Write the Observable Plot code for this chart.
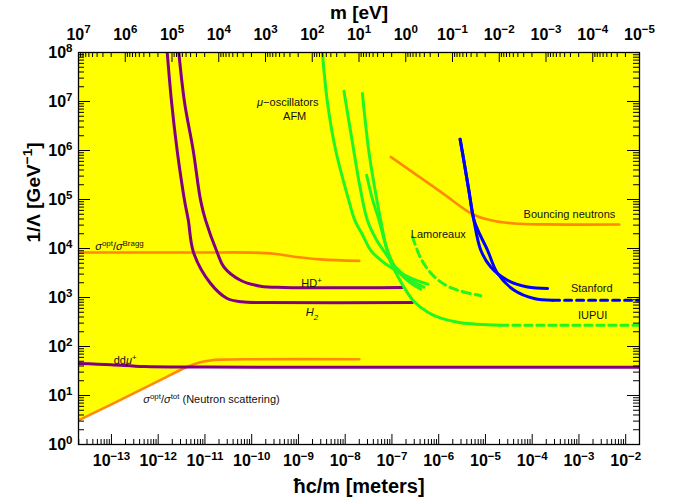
<!DOCTYPE html>
<html><head><meta charset="utf-8">
<script src="https://cdn.jsdelivr.net/npm/d3@7"></script>
<script src="https://cdn.jsdelivr.net/npm/@observablehq/plot@0.6"></script>
<style>
body{margin:0;background:#fff;}
svg{font-family:"Liberation Sans",Arial,Helvetica,sans-serif;}
</style></head><body><div id="chart"></div>
<script>
const HC = 1.97327e-7; // hbar*c in eV*m

// ---- series: [hbar c / m (meters), 1/Lambda (GeV^-1)] ----
const ddmu = [[1.97e-14,45],[1e-13,42.5],[5e-13,39],[1e-11,38],[1.97e-2,37.5]];
const sigmaTot = [[1.97e-14,3.1],[1e-13,6.6],[1e-12,19.6],[4e-12,37.6],[8e-12,47.5],[1.3e-11,52],[2.2e-11,54],[1e-10,55],[2e-8,55]];
const sigmaBragg = [[1.97e-14,8300],[1e-11,8300],[1e-10,8250],[3e-10,7800],[8e-10,6800],[3e-9,6000],[2e-8,5600]];
const h2 = [[1.56e-12,1e8],[1.93e-12,9.8e6],[2.54e-12,1.01e6],[3.65e-12,9.7e4],[4.4e-12,3.8e4],[5.7e-12,8300],[1.32e-11,1930],[3.0e-11,955],[6e-11,820],[2e-10,790],[2.75e-7,790]];
const hdPlus = [[2.76e-12,1e8],[3.65e-12,9.8e6],[5.6e-12,1.01e6],[8.05e-12,9.7e4],[1.03e-11,3.8e4],[1.83e-11,8300],[2.54e-11,4200],[5.75e-11,2250],[1.55e-10,1700],[5e-10,1600],[1.68e-7,1600]];
const bouncing = [[9.42e-8,7.4e5],[1.11e-6,1.43e5],[5.3e-6,5.0e4],[1.3e-5,3.78e4],[4.1e-5,3.24e4],[2e-4,3.1e4],[7.3e-3,3.09e4]];
const greenA = [[3.25e-9,1e8],[4.16e-9,9.8e6],[6.26e-9,1.01e6],[1.19e-8,9.7e4],[1.6e-8,3.8e4],[2.37e-8,1.87e4],[3.52e-8,9.2e3],[5.75e-8,5.8e3],[1.2e-7,3.6e3],[2.53e-7,2.5e3],[5.85e-7,1.87e3]];
const greenB = [[9.42e-9,1.62e7],[1.19e-8,4.15e6],[1.52e-8,1.01e6],[2.04e-8,1.96e5],[2.98e-8,3.78e4],[4.72e-8,1.48e4],[7.0e-8,8.4e3],[1.2e-7,4.15e3],[2.53e-7,2.25e3],[4.8e-7,1.62e3]];
const greenD = [[2.88e-8,3.13e5],[3.88e-8,9.7e4],[5.3e-8,3.78e4],[7.74e-8,1.01e4],[1.2e-7,3.96e3],[2.53e-7,1.96e3],[4.14e-7,1.48e3]];
const iupui = [[2.33e-8,1.46e7],[3.18e-8,1.01e6],[4.18e-8,1.96e5],[5.75e-8,3.78e4],[7.36e-8,1.17e4],[9.4e-8,5.25e3],[1.33e-7,2.72e3],[1.98e-7,1.41e3],[2.93e-7,841],[5.85e-7,501],[1.11e-6,378],[2.97e-6,306],[2.14e-5,272]];
const iupuiProj = [[2.14e-5,272],[1.97e-2,272]];
const lamoreaux = [[2.75e-7,1.73e4],[4.14e-7,6.3e3],[7.48e-7,2.85e3],[1.42e-6,1.78e3],[2.97e-6,1.35e3],[7.96e-6,1.09e3]];
const stanfordUpper = [[2.87e-6,1.7e6],[3.44e-6,6.3e5],[4.41e-6,1.55e5],[5.65e-6,3.78e4],[7.96e-6,9.2e3],[1.3e-5,4.2e3],[2.97e-5,2.25e3],[7.96e-5,1.64e3],[2.14e-4,1.53e3]];
const stanfordLower = [[2.87e-6,1.7e6],[3.44e-6,6.3e5],[4.41e-6,1.55e5],[5.8e-6,3.6e4],[1.11e-5,9.2e3],[1.82e-5,3.09e3],[4.12e-5,1.41e3],[1.1e-4,955],[2.73e-4,881]];
const stanfordProj = [[2.73e-4,881],[1.97e-2,881]];

// ---- labels ----
const labelsStart = [
  {x:4.5e-14, y:1.1e4, t:"{i:σ}{sup:opt}/{i:σ}{sup:Bragg}"},
  {x:1.12e-13, y:52, t:"dd{i:μ}{sup:+}"},
  {x:4.8e-13, y:8.3, t:"{i:σ}{sup:opt}/{i:σ}{sup:tot} (Neutron scattering)"},
  {x:1.15e-9, y:1930, t:"HD{sup:+}"},
  {x:1.43e-9, y:485, t:"{i:H}{sub:2}"},
  {x:2.53e-7, y:1.96e4, t:"Lamoreaux"},
  {x:6.55e-5, y:4.94e4, t:"Bouncing neutrons"},
  {x:6.75e-4, y:1530, t:"Stanford"},
  {x:9.53e-4, y:436, t:"IUPUI"}
];
const labelsMiddle = [
  {x:5.9e-10, y:9.5e6, t:"{i:μ}−oscillators"},
  {x:8.3e-10, y:5.0e6, t:"AFM"}
];

// ---- tick labels ----
const xTickExp = [-13,-12,-11,-10,-9,-8,-7,-6,-5,-4,-3,-2];
const mTickExp = [7,6,5,4,3,2,1,0,-1,-2,-3,-4,-5];
const yTickExp = [0,1,2,3,4,5,6,7,8];

const xDomain = [HC/1e7, HC/1e-5];
const yDomain = [1, 1e8];
const pts = a => a.map(([x,y]) => ({x, y}));

// minor tick positions (j * 10^k)
function minors(kmin, kmax, lo, hi) {
  const out = [];
  for (let k = kmin; k <= kmax; k++) for (let j = 2; j <= 9; j++) {
    const v = j * Math.pow(10, k);
    if (v >= lo && v <= hi) out.push(v);
  }
  return out;
}
const xMinor = minors(-15, -2, xDomain[0], xDomain[1]);
const mMinor = minors(-6, 7, 1e-5, 1e7).map(m => HC / m).filter(v => v >= xDomain[0] && v <= xDomain[1]);
const yMinor = minors(0, 7, 1, 1e8);
const xMajor = xTickExp.map(e => Math.pow(10, e));
const mMajor = mTickExp.map(e => HC / Math.pow(10, e));
const yMajor = yTickExp.map(e => Math.pow(10, e));

// lower envelope of ddmu and sigmaTot for the excluded (yellow) region
function logInterp(series, x) {
  const lx = Math.log10(x);
  for (let i = 0; i < series.length - 1; i++) {
    const [x0,y0] = series[i], [x1,y1] = series[i+1];
    if (x >= x0 && x <= x1) {
      const t = (lx - Math.log10(x0)) / (Math.log10(x1) - Math.log10(x0));
      return Math.pow(10, Math.log10(y0) + t * (Math.log10(y1) - Math.log10(y0)));
    }
  }
  return Infinity;
}
const xs = Array.from(new Set([...ddmu.map(d=>d[0]), ...sigmaTot.map(d=>d[0])])).sort((a,b)=>a-b);
const envelope = xs.map(x => ({x, y: Math.min(logInterp(ddmu, x), logInterp(sigmaTot, x))}));
for (let i = 0; i < sigmaTot.length - 1; i++) {
  const [xa] = sigmaTot[i], [xb] = sigmaTot[i+1];
  const da = logInterp(sigmaTot, xa) - logInterp(ddmu, xa), db = logInterp(sigmaTot, xb) - logInterp(ddmu, xb);
  if (da < 0 && db >= 0) {
    let lo = xa, hi = xb;
    for (let k = 0; k < 40; k++) { const m = Math.sqrt(lo*hi); (logInterp(sigmaTot, m) < logInterp(ddmu, m)) ? lo = m : hi = m; }
    envelope.push({x: lo, y: logInterp(ddmu, lo)});
  }
}
envelope.sort((a,b) => a.x - b.x);

const PURPLE = "#800080", ORANGE = "#ff8a00", GREEN = "#22f522", BLUE = "#0000ff", YELLOW = "#ffff00";
const W = 683, H = 503, ML = 78, MR = 44, MT = 52, MB = 59;
const PW = W - ML - MR, PH = H - MT - MB;

const line = (data, stroke, extra = {}) => Plot.line(pts(data), {x: "x", y: "y", stroke, strokeWidth: 3, curve: "catmull-rom", clip: true, ...extra});
const supFmt = e => "10{sup:" + (e < 0 ? "−" + (-e) : e) + "}";

const chart = Plot.plot({
  width: W, height: H,
  marginLeft: ML, marginRight: MR, marginTop: MT, marginBottom: MB,
  x: {type: "log", domain: xDomain},
  y: {type: "log", domain: yDomain},
  style: {background: "white", fontFamily: '"Liberation Sans",Arial,Helvetica,sans-serif', overflow: "visible"},
  marks: [
    Plot.areaY(envelope, {x: "x", y1: "y", y2: () => yDomain[1], fill: YELLOW}),
    line(sigmaBragg, ORANGE, {strokeWidth: 2.6}),
    line(sigmaTot, ORANGE, {strokeWidth: 2.6}),
    line(bouncing, ORANGE, {strokeWidth: 2.6}),
    line(ddmu, PURPLE),
    line(h2, PURPLE),
    line(hdPlus, PURPLE),
    line(greenA, GREEN),
    line(greenB, GREEN),
    line(greenD, GREEN),
    line(iupui, GREEN),
    line(iupuiProj, GREEN, {strokeDasharray: "7,5", curve: "linear"}),
    line(lamoreaux, GREEN, {strokeDasharray: "8,5"}),
    line(stanfordUpper, BLUE),
    line(stanfordLower, BLUE),
    line(stanfordProj, BLUE, {strokeDasharray: "7,5", curve: "linear"}),
    // inward ticks on all four sides
    Plot.tickX(xMajor, {x: d => d, insetTop: PH - 10, stroke: "black"}),
    Plot.tickX(xMinor, {x: d => d, insetTop: PH - 5, stroke: "black"}),
    Plot.tickX(mMajor, {x: d => d, insetBottom: PH - 10, stroke: "black"}),
    Plot.tickX(mMinor, {x: d => d, insetBottom: PH - 5, stroke: "black"}),
    Plot.tickY(yMajor, {y: d => d, insetRight: PW - 12, stroke: "black"}),
    Plot.tickY(yMinor, {y: d => d, insetRight: PW - 6, stroke: "black"}),
    Plot.tickY(yMajor, {y: d => d, insetLeft: PW - 12, stroke: "black"}),
    Plot.tickY(yMinor, {y: d => d, insetLeft: PW - 6, stroke: "black"}),
    Plot.frame({stroke: "black", strokeWidth: 1.3}),
    Plot.axisX({anchor: "bottom", ticks: xMajor, tickSize: 0, tickPadding: 10, label: null,
      tickFormat: d => supFmt(Math.round(Math.log10(d))), fontSize: 16, fontWeight: "bold", fill: "black"}),
    Plot.axisX({anchor: "top", ticks: mMajor, tickSize: 0, tickPadding: 13, label: null,
      tickFormat: d => supFmt(Math.round(Math.log10(HC / d))), fontSize: 16, fontWeight: "bold", fill: "black"}),
    Plot.axisY({anchor: "left", ticks: yMajor, tickSize: 0, tickPadding: 6, label: null,
      tickFormat: d => supFmt(Math.round(Math.log10(d))), fontSize: 16, fontWeight: "bold", fill: "black"}),
    Plot.text(["ħc/m [meters]"], {frameAnchor: "bottom", lineAnchor: "middle", dy: 42, text: d => d, fontSize: 20, fontWeight: "bold", fill: "black"}),
    Plot.text(["m [eV]"], {frameAnchor: "top", lineAnchor: "middle", dy: -40, text: d => d, fontSize: 19, fontWeight: "bold", fill: "black"}),
    Plot.text(["1/Λ [GeV{sup:−1}]"], {frameAnchor: "left", dx: -45, dy: -6, rotate: -90, text: d => d, fontSize: 19, fontWeight: "bold", fill: "black"}),
    Plot.text(labelsStart, {x: "x", y: "y", text: "t", textAnchor: "start", fontSize: 11, fill: "#111"}),
    Plot.text(labelsMiddle, {x: "x", y: "y", text: "t", textAnchor: "middle", fontSize: 11, fill: "#111"})
  ]
});

document.getElementById("chart").appendChild(chart);

// rich text: {i:..} italic, {sup:..} superscript, {sub:..} subscript
const NS = "http://www.w3.org/2000/svg";
d3.select(chart).selectAll("text").each(function() {
  const s = this.textContent;
  if (s.indexOf("{") < 0) return;
  const fs = parseFloat(getComputedStyle(this).fontSize) || 11;
  while (this.firstChild) this.removeChild(this.firstChild);
  const re = /\{(i|sup|sub):([^}]*)\}|([^{]+)/g;
  let m, shift = 0;
  while ((m = re.exec(s))) {
    const t = document.createElementNS(NS, "tspan");
    let target = 0, size = null, txt;
    if (m[3] !== undefined) txt = m[3];
    else if (m[1] === "i") { txt = m[2]; t.setAttribute("font-style", "italic"); }
    else if (m[1] === "sup") { txt = m[2]; target = -0.38 * fs; size = 0.72 * fs; }
    else { txt = m[2]; target = 0.28 * fs; size = 0.72 * fs; t.setAttribute("font-style", "italic"); }
    const dy = target - shift;
    if (dy) t.setAttribute("dy", dy.toFixed(2));
    shift = target;
    if (size) t.setAttribute("font-size", size.toFixed(2));
    t.textContent = txt;
    this.appendChild(t);
  }
});
</script></body></html>
